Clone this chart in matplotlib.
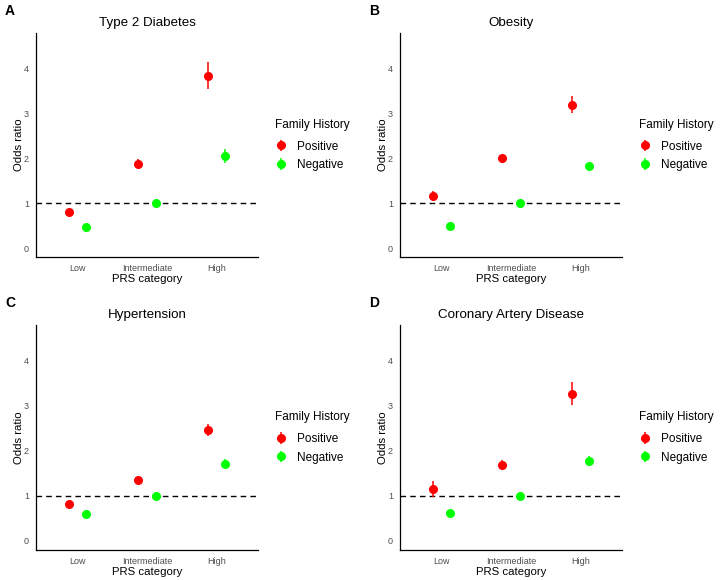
import matplotlib
matplotlib.use("Agg")
import matplotlib.pyplot as plt
import numpy as np

plt.rcParams['font.family'] = ['Liberation Sans', 'DejaVu Sans']

categories = ["Low", "Intermediate", "High"]
panels = ["A", "B", "C", "D"]
titles = ["Type 2 Diabetes", "Obesity", "Hypertension", "Coronary Artery Disease"]

# odds ratio and 95% CI per panel, order Low / Intermediate / High
pos_or = [[0.79, 1.87, 3.82], [1.16, 2.00, 3.19], [0.82, 1.36, 2.45], [1.15, 1.69, 3.26]]
pos_lo = [[0.74, 1.78, 3.54], [1.05, 1.92, 3.00], [0.78, 1.31, 2.32], [0.98, 1.58, 3.02]]
pos_hi = [[0.84, 1.97, 4.13], [1.27, 2.07, 3.38], [0.87, 1.41, 2.58], [1.33, 1.80, 3.51]]
neg_or = [[0.47, 1.00, 2.05], [0.50, 1.00, 1.83], [0.60, 1.00, 1.71], [0.63, 1.00, 1.78]]
neg_lo = [[0.44, 1.00, 1.90], [0.47, 1.00, 1.77], [0.57, 1.00, 1.60], [0.60, 1.00, 1.67]]
neg_hi = [[0.50, 1.00, 2.21], [0.53, 1.00, 1.88], [0.63, 1.00, 1.82], [0.66, 1.00, 1.88]]

W, H = 720, 580
fig = plt.figure(figsize=(7.2, 5.8), dpi=100)

# axes boxes in pixels: left, top, right, bottom
boxes = [(36, 33, 258, 257), (400, 33, 622, 257), (36, 325, 258, 550), (400, 325, 622, 550)]

x = np.arange(1, 4)
dodge = 0.125

for i in range(4):
    l, t, r, b = boxes[i]
    ax = fig.add_axes([l / W, 1 - b / H, (r - l) / W, (b - t) / H])

    series = [("Positive", "#FF0000", -dodge, pos_or[i], pos_lo[i], pos_hi[i]),
              ("Negative", "#00FF00", dodge, neg_or[i], neg_lo[i], neg_hi[i])]
    for name, col, off, v, lo, hi in series:
        v = np.array(v)
        err = [v - np.array(lo), np.array(hi) - v]
        ax.errorbar(x + off, v, yerr=err, fmt='o', color=col, ecolor=col,
                    markersize=5.5, elinewidth=1.1, capsize=0, label=name, zorder=3)

    ax.axhline(1, color='black', linestyle=(0, (4, 3)), linewidth=1.0, zorder=2)

    ax.set_xlim(0.4, 3.6)
    ax.set_ylim(-0.2, 4.78)
    ax.set_xticks(x)
    ax.set_xticklabels(categories)
    ax.set_yticks([0, 1, 2, 3, 4])
    ax.tick_params(length=0, labelsize=6.5, labelcolor='#4d4d4d')
    ax.tick_params(axis='y', pad=5)
    ax.tick_params(axis='x', pad=5)
    for s in ['top', 'right']:
        ax.spines[s].set_visible(False)
    for s in ['left', 'bottom']:
        ax.spines[s].set_linewidth(0.9)
    ax.set_xlabel("PRS category", fontsize=8.2, labelpad=1)
    ax.set_ylabel("Odds ratio", fontsize=8.2, labelpad=0)
    ax.set_title(titles[i], fontsize=9.6, pad=5)

    leg = ax.legend(title="Family History", loc='center left',
                    bbox_to_anchor=(1.03, 0.5), frameon=False, fontsize=8.5,
                    title_fontsize=8.5, handlelength=1.0, handletextpad=0.8,
                    labelspacing=0.55)
    leg._legend_box.align = "left"
    leg._legend_box.sep = 7

    fig.text((l - 31) / W, 1 - (t - 22) / H, panels[i], fontsize=10, fontweight='bold',
             va='center', ha='left')

fig.savefig("out.png", dpi=100, facecolor='white')
